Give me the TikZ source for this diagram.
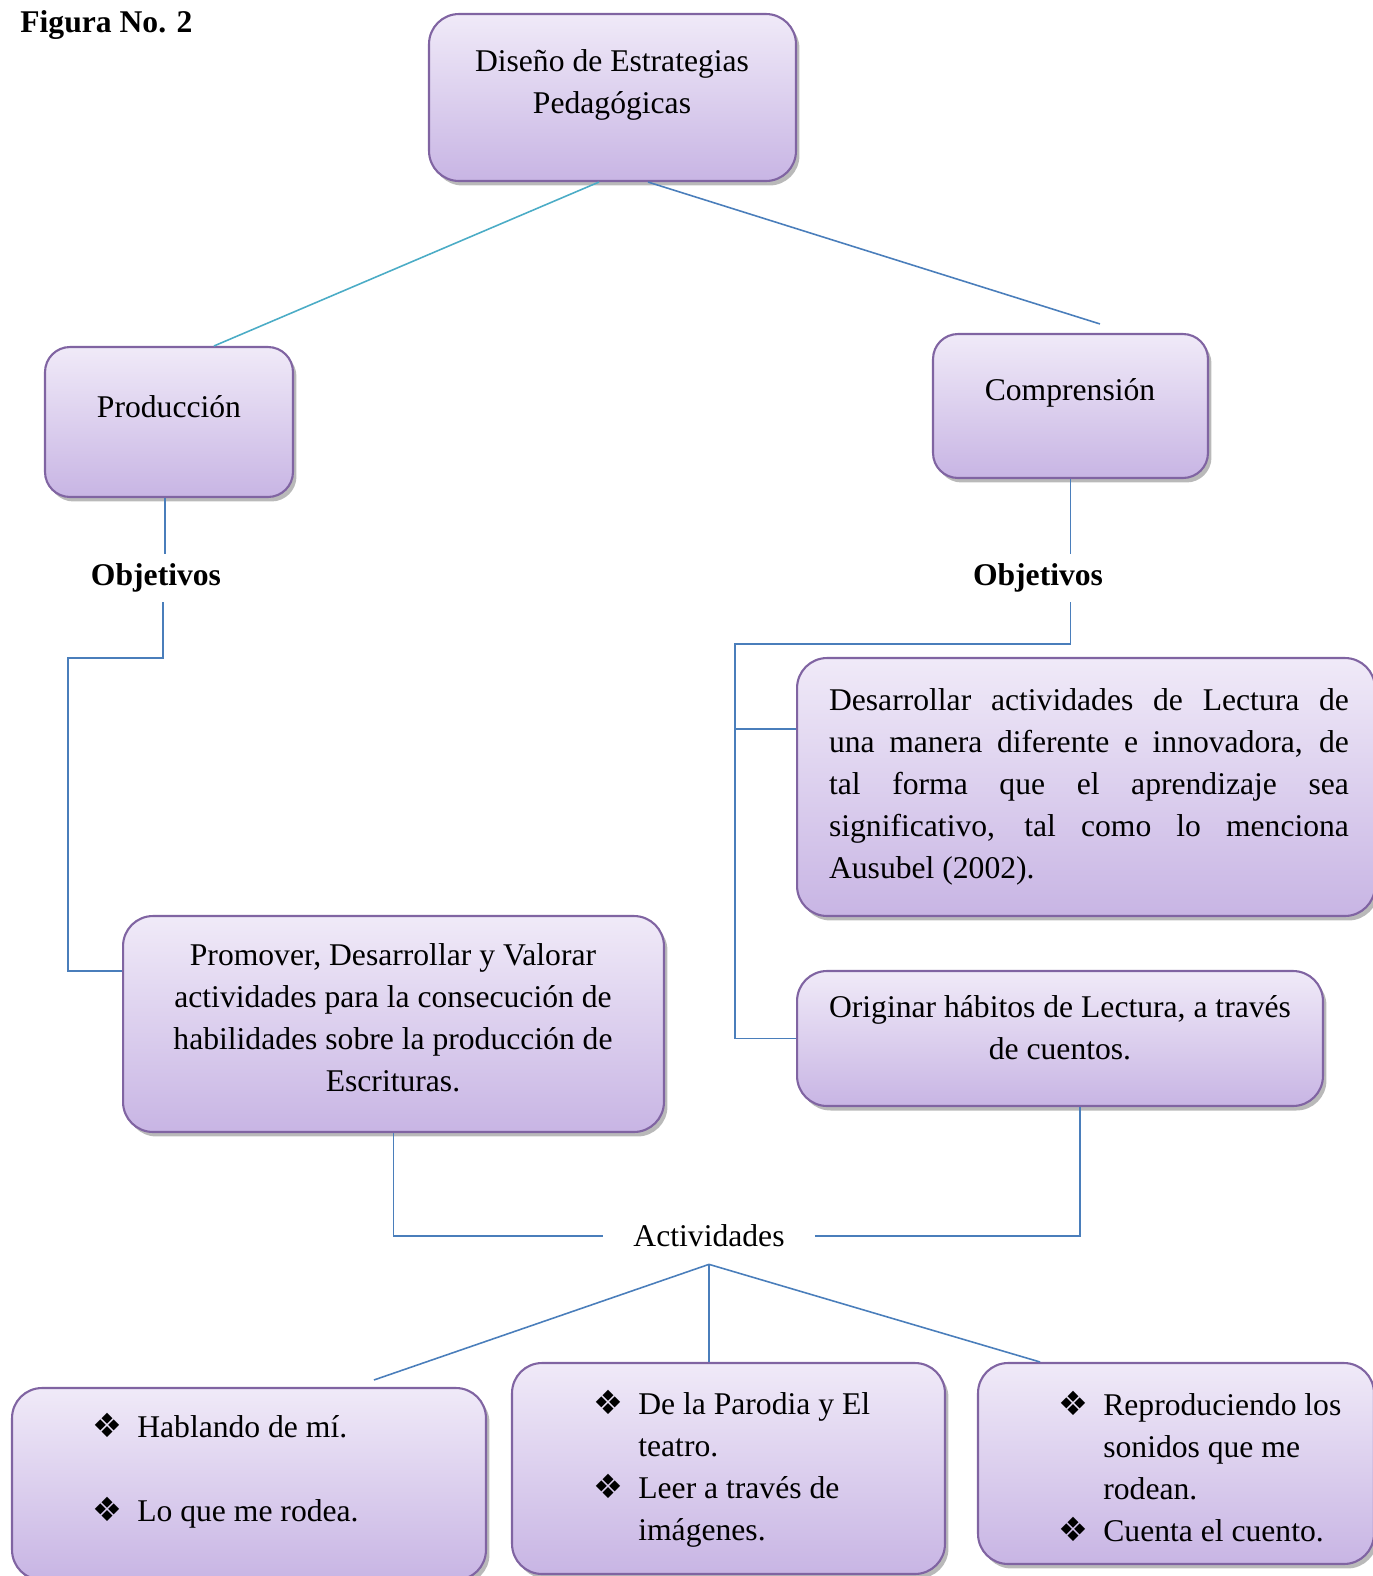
\documentclass[tikz,border=0pt]{standalone}
\usepackage{fontspec}
\setmainfont{Liberation Serif}
\newfontfamily\symbfont{DejaVu Sans}
\usetikzlibrary{shadows}

\definecolor{boxtop}{RGB}{240,234,248}
\definecolor{boxbot}{RGB}{200,181,228}
\definecolor{boxline}{RGB}{128,100,162}
\definecolor{linkblue}{RGB}{74,126,187}
\definecolor{linkcyan}{RGB}{75,172,198}

\newcommand{\bul}{\makebox[0.9cm][l]{\symbfont\fontsize{19}{19}\selectfont ❖}}
\newcommand{\ind}{\hspace*{0.9cm}}

\begin{document}
\begin{tikzpicture}[x=0.02cm,y=-0.02cm]

    \tikzstyle{every node}=[font=\fontsize{18}{23.9}\selectfont, inner sep=0pt]
    \tikzstyle{caja}=[draw=boxline, line width=1.2pt, rounded corners=0.6cm,
                      top color=boxtop, bottom color=boxbot,
                      drop shadow={shadow xshift=0.07cm, shadow yshift=-0.09cm,
                                   fill=black!50, opacity=0.55}]
    \tikzstyle{link}=[draw=linkblue, line width=0.9pt]
    \def\negrita{\fontsize{18}{23.9}\selectfont\bfseries}

    \useasboundingbox (0,0) rectangle (1373,1576);

    \node (fig) [anchor=west, font=\negrita] at (20,25) {Figura No. 2};

    % cajas
    \node[caja, minimum width=7.34cm, minimum height=3.34cm] (diseno) at (612.5,97.5) {};
    \node (disenoT) [align=center] at (612,84.5) {Diseño de Estrategias\\Pedagógicas};

    \node[caja, rounded corners=0.5cm, minimum width=4.96cm, minimum height=3cm] (prod) at (169,422) {};
    \node (prodT) at (169,407) {Producción};
    \node[caja, rounded corners=0.5cm, minimum width=5.5cm, minimum height=2.88cm] (comp) at (1070.5,406) {};
    \node (compT) at (1070,393) {Comprensión};

    \node (objL) [font=\negrita, minimum height=0.96cm] at (156,578) {Objetivos};
    \node (objR) [font=\negrita, minimum height=0.96cm] at (1038,578) {Objetivos};

    \node[caja, minimum width=11.56cm, minimum height=5.16cm] (desa) at (1086,787) {};
    \node (desaT) [text width=10.4cm, align=justify] at (1089,786.5)
        {\hyphenpenalty=10000 Desarrollar actividades de Lectura de\linebreak
         una manera diferente e innovadora, de\linebreak
         tal forma que el aprendizaje sea\linebreak
         significativo, tal como lo menciona\linebreak
         Ausubel (2002).};

    \node[caja, minimum width=10.82cm, minimum height=4.32cm] (prom) at (393.5,1024) {};
    \node (promT) [align=center] at (393,1018)
        {Promover, Desarrollar y Valorar\\actividades para la consecución de\\
         habilidades sobre la producción de\\Escrituras.};

    \node[caja, minimum width=10.52cm, minimum height=2.7cm] (orig) at (1060,1038.5) {};
    \node (origT) [align=center] at (1060,1028) {Originar hábitos de Lectura, a través\\de cuentos.};

    \node (act) [inner xsep=0.6cm, minimum height=1.12cm] at (709,1236) {Actividades};

    \node[caja, minimum width=9.48cm, minimum height=3.84cm] (habl) at (249,1484) {};
    \node (hablT) [anchor=west, align=left] at (92,1470.5)
        {\bul Hablando de mí.\\[0.84cm]\bul Lo que me rodea.};
    \node[caja, minimum width=8.66cm, minimum height=4.22cm] (parod) at (728.5,1468.5) {};
    \node (parodT) [anchor=west, align=left] at (593,1468.5)
        {\bul De la Parodia y El\\\ind teatro.\\\bul Leer a través de\\\ind imágenes.};
    \node[caja, minimum width=7.92cm, minimum height=4.02cm] (sonid) at (1176,1463.5) {};
    \node (sonidT) [anchor=west, align=left] at (1058,1466.5)
        {\bul Reproduciendo los\\\ind sonidos que me\\\ind rodean.\\\bul Cuenta el cuento.};

    % conectores
    \draw[link, draw=linkcyan] ([xshift=-0.27cm]diseno.south) -- ([xshift=0.9cm]prod.north);
    \draw[link] ([xshift=0.71cm]diseno.south) -- ([xshift=0.59cm,yshift=0.18cm]comp.north);

    \draw[link] ([xshift=-0.08cm]prod.south) -- ([xshift=-0.08cm]prod.south |- objL.north);
    \coordinate (lbus) at (68,658);
    \draw[link] ([xshift=0.14cm]objL.south) |- (lbus) |- ([yshift=1.06cm]prom.west);

    \draw[link] (comp.south) -- (comp.south |- objR.north);
    \coordinate (rbus) at (735,644);
    \draw[link] (comp.south |- objR.south) |- (rbus) |- (orig.west);
    \draw[link] ([yshift=1.16cm]desa.west) -| (rbus);

    \draw[link] (prom.south) |- (act.west);
    \draw[link] (act.east) -| ([xshift=0.4cm]orig.south);
    \draw[link] (act.south) -- ([xshift=2.5cm,yshift=0.14cm]habl.north);
    \draw[link] (act.south) -- (act.south |- parod.north);
    \draw[link] (act.south) -- ([xshift=-2.72cm]sonid.north);
\end{tikzpicture}
\end{document}
